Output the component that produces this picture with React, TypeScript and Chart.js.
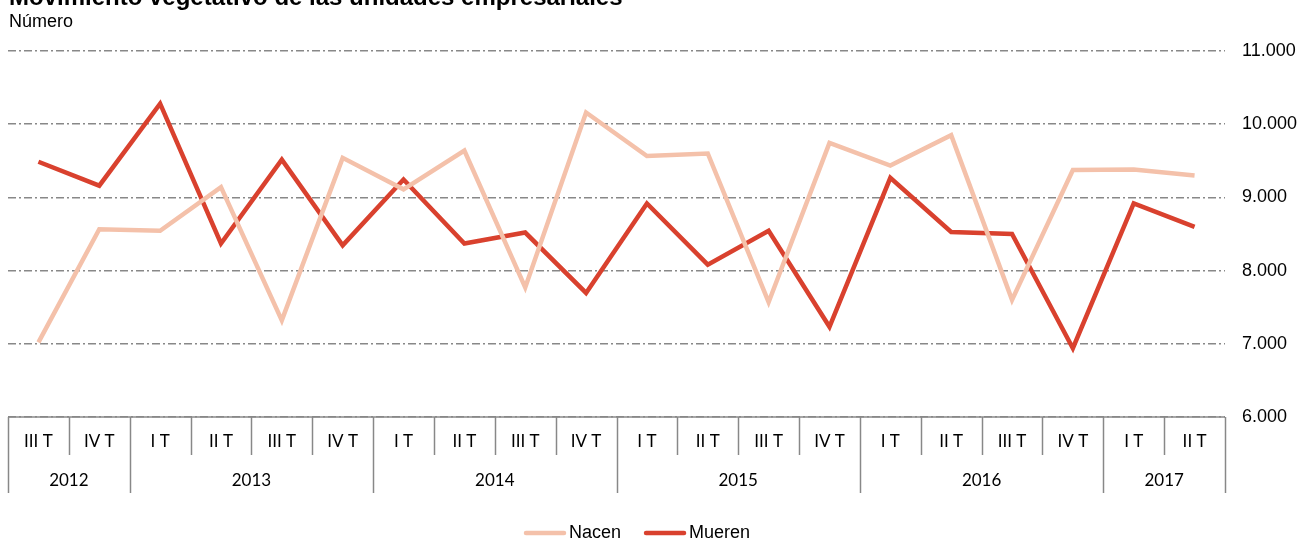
import React, { useEffect, useRef } from "react";
import { Chart, registerables } from "chart.js";

Chart.register(...registerables);

const TITLE = "Movimiento vegetativo de las unidades empresariales";
const SUBTITLE = "Número";

const quarters = [
  "III T", "IV T",
  "I T", "II T", "III T", "IV T",
  "I T", "II T", "III T", "IV T",
  "I T", "II T", "III T", "IV T",
  "I T", "II T", "III T", "IV T",
  "I T", "II T",
];
const years = ["2012", "2013", "2014", "2015", "2016", "2017"];
const yearCounts = [2, 4, 4, 4, 4, 2];

const nacen = [7020, 8565, 8545, 9140, 7320, 9540, 9110, 9640, 7770, 10160, 9565, 9600, 7568, 9745, 9435, 9850, 7600, 9373, 9380, 9300];
const mueren = [9487, 9160, 10280, 8370, 9515, 8345, 9245, 8370, 8520, 7695, 8918, 8082, 8545, 7232, 9268, 8528, 8500, 6940, 8918, 8596];

const seriesNames = ["Nacen", "Mueren"];
const seriesColors = ["#F4C1AA", "#D9412E"];

const yMin = 6000;
const yMax = 11000;
const yStep = 1000;

const AXIS_COLOR = "#888888";
const SANS = "'Liberation Sans', Arial, sans-serif";
const CAT_FONT = "Lato, 'Open Sans', sans-serif";

const fmt = (v: number) => String(v).replace(/\B(?=(\d{3})+(?!\d))/g, ".");

const decorPlugin = {
  id: "decor",
  afterDraw(chart: any) {
    const { ctx, chartArea } = chart;
    const x = chart.scales.x;
    const n = quarters.length;
    const step = x.getPixelForValue(1) - x.getPixelForValue(0);
    const edge = (i: number) => x.getPixelForValue(i) - step / 2;
    const bottom = chartArea.bottom;
    ctx.save();
    ctx.strokeStyle = AXIS_COLOR;
    ctx.lineWidth = 1.5;
    ctx.setLineDash([]);
    ctx.beginPath();
    ctx.moveTo(edge(0), bottom);
    ctx.lineTo(edge(n), bottom);
    ctx.stroke();
    const yearStarts: number[] = [0];
    yearCounts.forEach((c, i) => yearStarts.push(yearStarts[i] + c));
    const isYearEdge = (i: number) => yearStarts.includes(i);
    for (let i = 0; i <= n; i++) {
      const px = Math.round(edge(i)) + 0.5;
      ctx.beginPath();
      ctx.moveTo(px, bottom);
      ctx.lineTo(px, bottom + (isYearEdge(i) ? 76 : 38));
      ctx.stroke();
    }
    ctx.fillStyle = "#000";
    ctx.font = `17px ${CAT_FONT}`;
    ctx.textAlign = "center";
    ctx.textBaseline = "middle";
    quarters.forEach((q, i) => {
      ctx.fillText(q, x.getPixelForValue(i), bottom + 25);
    });
    years.forEach((yr, i) => {
      const a = edge(yearStarts[i]);
      const b = edge(yearStarts[i + 1]);
      ctx.fillText(yr, (a + b) / 2, bottom + 64);
    });
    ctx.textAlign = "left";
    ctx.textBaseline = "alphabetic";
    ctx.font = `bold 24px ${SANS}`;
    ctx.fillText(TITLE, 9, 5);
    ctx.font = `18px ${SANS}`;
    ctx.fillText(SUBTITLE, 9, 27);
    ctx.font = `18px ${SANS}`;
    const lineW = 42;
    const gapText = 3;
    const gapItem = 23;
    const widths = seriesNames.map((s) => lineW + gapText + ctx.measureText(s).width);
    let cx = 524;
    const ly = 533;
    chart.data.datasets.forEach((ds: any, i: number) => {
      ctx.strokeStyle = ds.borderColor;
      ctx.lineWidth = 4.5;
      ctx.lineCap = "round";
      ctx.beginPath();
      ctx.moveTo(cx + 2, ly);
      ctx.lineTo(cx + lineW - 2, ly);
      ctx.stroke();
      ctx.fillStyle = "#000";
      ctx.textBaseline = "middle";
      ctx.fillText(ds.label, cx + lineW + gapText, ly);
      cx += widths[i] + gapItem;
    });
    ctx.restore();
  },
};

export default function App() {
  const ref = useRef<HTMLCanvasElement>(null);
  useEffect(() => {
    if (!ref.current) return;
    const chart = new Chart(ref.current, {
      type: "line",
      data: {
        labels: quarters.map((q, i) => `${q}-${i}`),
        datasets: [
          { label: seriesNames[0], data: nacen, borderColor: seriesColors[0], backgroundColor: seriesColors[0], borderWidth: 4.5, pointRadius: 0, tension: 0, fill: false },
          { label: seriesNames[1], data: mueren, borderColor: seriesColors[1], backgroundColor: seriesColors[1], borderWidth: 4.5, pointRadius: 0, tension: 0, fill: false },
        ],
      },
      options: {
        animation: false,
        responsive: false,
        devicePixelRatio: 1,
        layout: { padding: { left: 8, top: 51, right: 0, bottom: 126 } },
        plugins: { legend: { display: false }, title: { display: false }, tooltip: { enabled: false } },
        scales: {
          x: { type: "category", display: false, offset: true, grid: { display: false } },
          y: {
            position: "right",
            min: yMin,
            max: yMax,
            border: { display: false, dash: [8, 3, 2, 3] },
            grid: { color: AXIS_COLOR, lineWidth: 1.5, drawTicks: false },
            ticks: {
              stepSize: yStep,
              padding: 17,
              color: "#000",
              font: { family: SANS, size: 18 },
              callback: (v: any) => fmt(Number(v)),
            },
            afterFit: (s: any) => { s.width = 79; },
          },
        },
      },
      plugins: [decorPlugin],
    });
    return () => chart.destroy();
  }, []);
  return (
    <div style={{ position: "fixed", left: 0, top: 0, width: 1304, height: 543, background: "#fff" }}>
      <canvas ref={ref} width={1304} height={543} style={{ display: "block" }} />
    </div>
  );
}
